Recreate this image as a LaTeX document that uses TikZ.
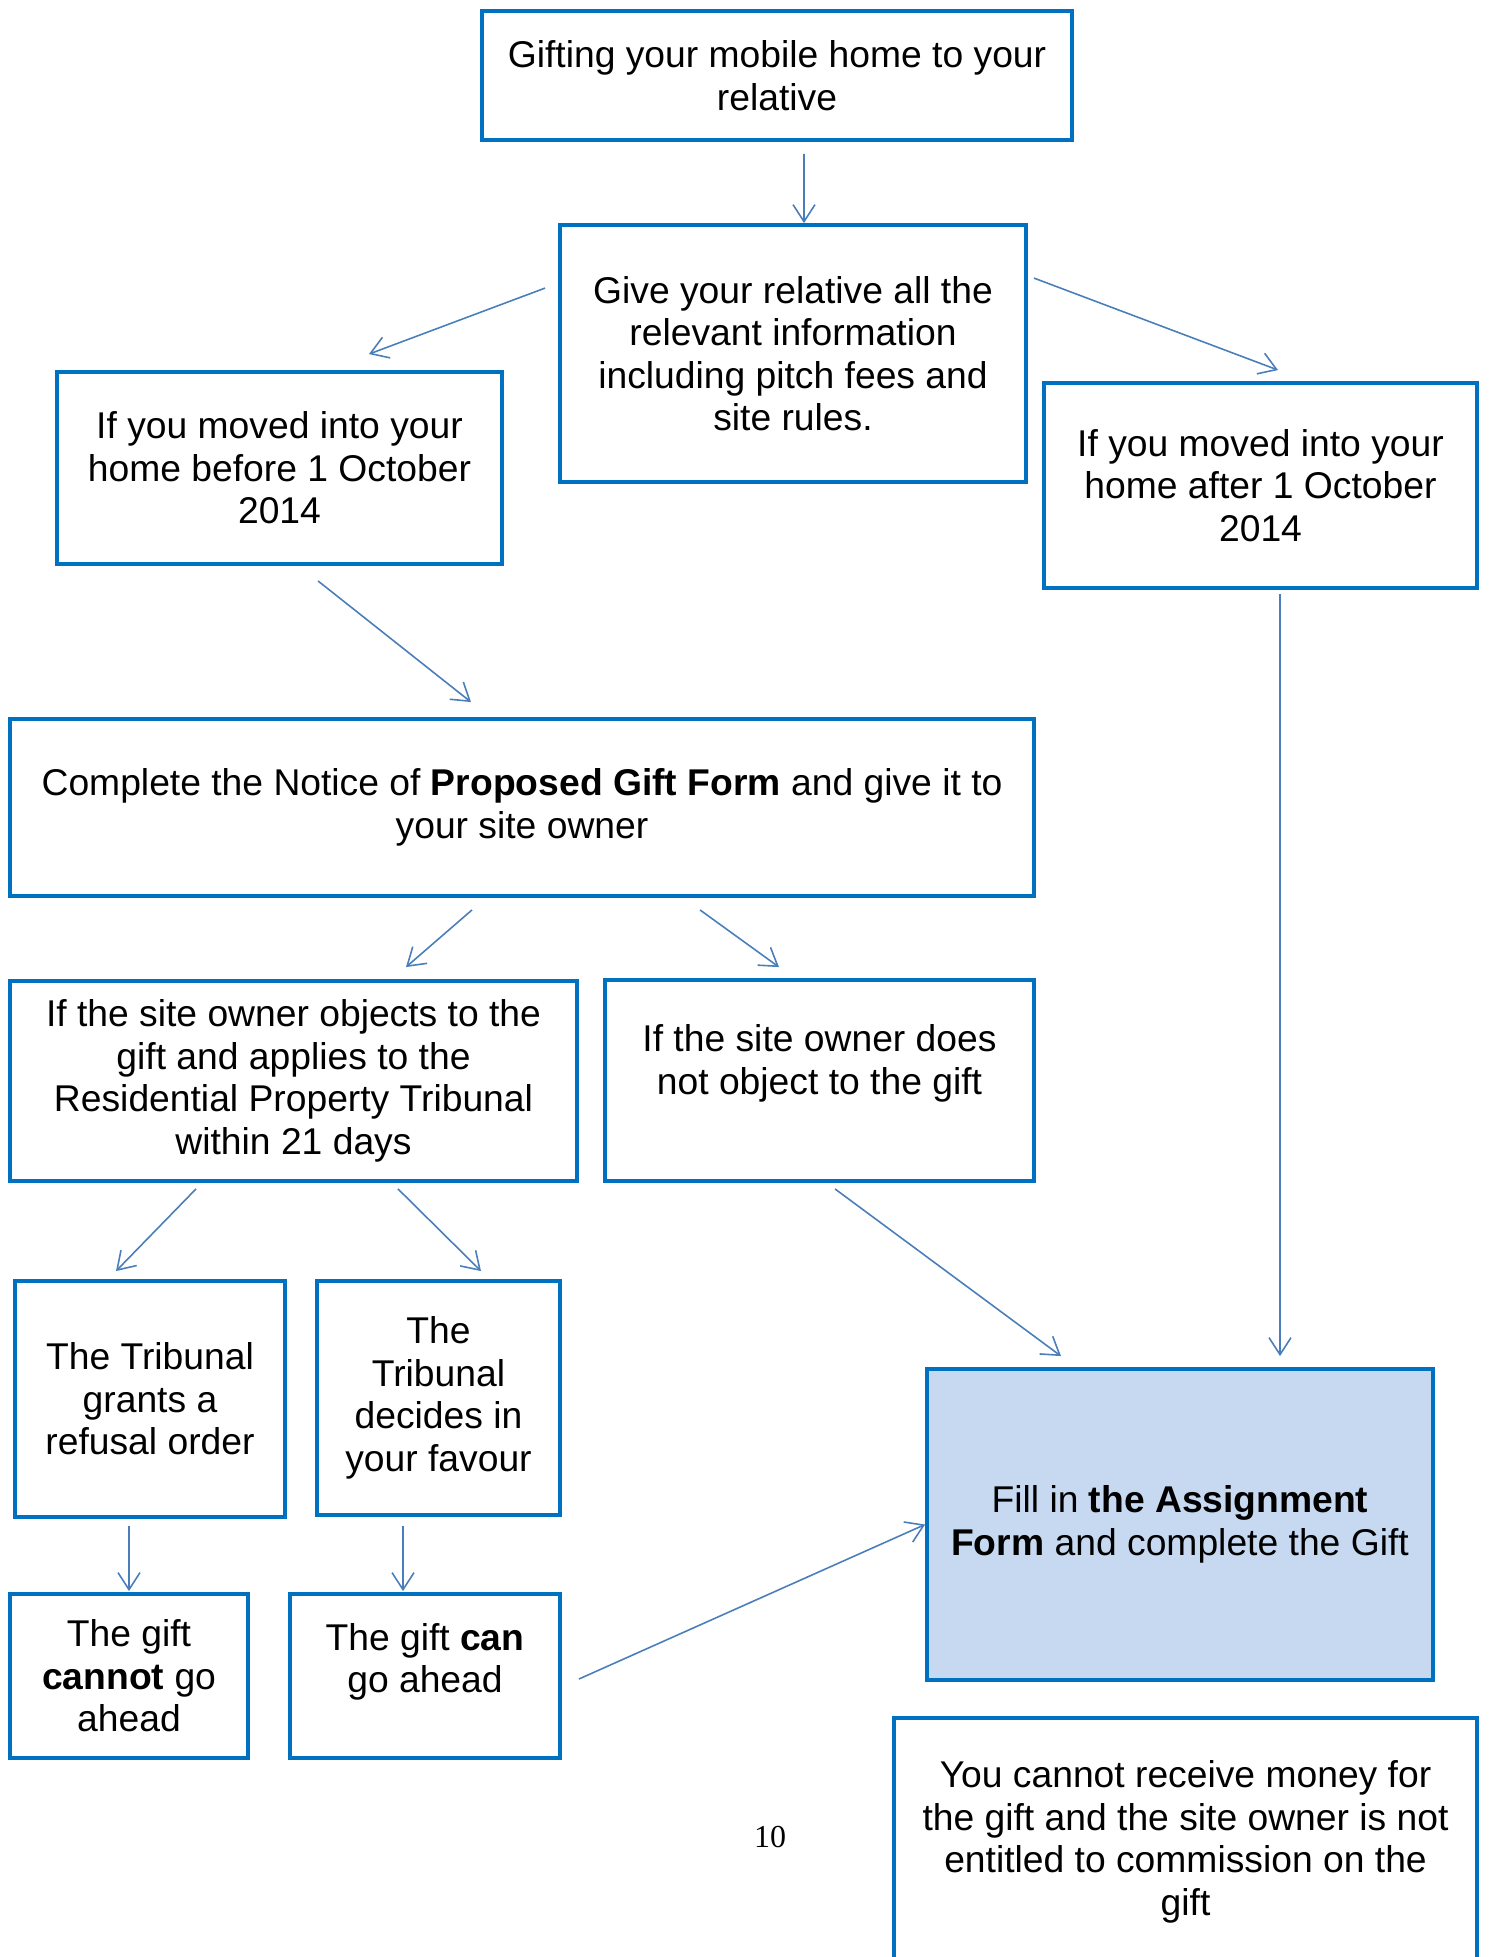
\documentclass[tikz,border=0pt]{standalone}
\usepackage{fontspec}
\setmainfont{Liberation Sans}
\newfontfamily\pagefont{Liberation Serif}
\usetikzlibrary{arrows.meta,calc}
\definecolor{boxblue}{HTML}{0070C0}
\definecolor{arrowblue}{HTML}{4A7EBB}
\definecolor{fillblue}{HTML}{C6D9F1}

\begin{document}
\begin{tikzpicture}[
    box/.style={draw=boxblue, line width=1.1pt, align=center, inner sep=0pt,
      font=\fontsize{10.6}{12.1}\selectfont},
    flow/.style={draw=arrowblue, line width=0.45pt,
      -{Straight Barb[length=1.7mm,width=2.2mm]}}
]
    \useasboundingbox (0,0) rectangle (14.88,-19.57);

    % Draw start and information
    \node[box, minimum width=5.90cm, minimum height=1.29cm] (gift) at (7.77,-0.755)
      {Gifting your mobile home to your\\relative};
    \node[box, minimum width=4.66cm, minimum height=2.57cm] (info) at (7.93,-3.535)
      {Give your relative all the\\relevant information\\including pitch fees and\\site rules.};

    % Draw the two moving-in dates
    \node[box, minimum width=4.45cm, minimum height=1.92cm] (before) at (2.795,-4.68)
      {If you moved into your\\home before 1 October\\2014};
    \node[box, minimum width=4.33cm, minimum height=2.05cm] (after) at (12.605,-4.855)
      {If you moved into your\\home after 1 October\\2014};

    % Notice to site owner
    \node[box, minimum width=10.24cm, minimum height=1.77cm] (notice) at (5.22,-8.075)
      {Complete the Notice of \textbf{Proposed Gift Form} and give it to\\your site owner};
    \node[box, minimum width=5.67cm, minimum height=2.00cm] (objects) at (2.935,-10.81)
      {If the site owner objects to the\\gift and applies to the\\Residential Property Tribunal\\within 21 days};
    \node[box, minimum width=4.29cm, minimum height=2.01cm, text depth=0.42cm] (noobject) at (8.195,-10.805)
      {If the site owner does\\not object to the gift};

    % Tribunal outcomes
    \node[box, minimum width=2.70cm, minimum height=2.36cm] (refusal) at (1.50,-13.99)
      {The Tribunal\\grants a\\refusal order};
    \node[box, minimum width=2.43cm, minimum height=2.34cm] (favour) at (4.385,-13.98)
      {The\\Tribunal\\decides in\\your favour};
    \node[box, minimum width=2.38cm, minimum height=1.64cm] (cannot) at (1.29,-16.76)
      {The gift\\\textbf{cannot} go\\ahead};
    \node[box, minimum width=2.70cm, minimum height=1.64cm, text depth=0.36cm] (can) at (4.25,-16.76)
      {The gift \textbf{can}\\go ahead};

    % Assignment and note
    \node[box, fill=fillblue, minimum width=5.06cm, minimum height=3.11cm] (assign) at (11.80,-15.245)
      {Fill in \textbf{the Assignment}\\\textbf{Form} and complete the Gift};
    \node[box, minimum width=5.83cm, minimum height=2.48cm] (money) at (11.855,-18.42)
      {You cannot receive money for\\the gift and the site owner is not\\entitled to commission on the\\gift};

    % Page number
    \node[font=\pagefont\fontsize{9.1}{11}\selectfont] (pagenum) at (7.70,-18.37) {10};

    % Connectors
    \draw[flow] ($(gift.south)+(0.27,-0.12)$) -- ($(info.north)+(0.11,0)$);
    \draw[flow] ($(info.north west)+(-0.13,-0.65)$) -- ($(before.north)+(0.895,0.16)$);
    \draw[flow] ($(info.north east)+(0.06,-0.55)$) -- ($(after.north)+(0.175,0.11)$);
    \draw[flow] ($(before.south)+(0.385,-0.15)$) -- ($(notice.north)+(-0.51,0.15)$);
    \draw[flow] ($(notice.south)+(-0.50,-0.12)$) -- ($(objects.north)+(1.125,0.12)$);
    \draw[flow] ($(notice.south)+(1.78,-0.12)$) -- ($(noobject.north)+(-0.405,0.11)$);
    \draw[flow] ($(after.south)+(0.195,-0.04)$) -- ($(assign.north)+(1.0,0.11)$);
    \draw[flow] ($(noobject.south)+(0.155,-0.06)$) -- ($(assign.north)+(-1.19,0.11)$);
    \draw[flow] ($(objects.south)+(-0.975,-0.06)$) -- ($(refusal.north)+(-0.34,0.08)$);
    \draw[flow] ($(objects.south)+(1.045,-0.06)$) -- ($(favour.north)+(0.425,0.08)$);
    \draw[flow] ($(refusal.south)+(-0.21,-0.07)$) -- ($(cannot.north)+(0,0.01)$);
    \draw[flow] ($(favour.south)+(-0.355,-0.09)$) -- ($(can.north)+(-0.22,0.01)$);
    \draw[flow] ($(can.east)+(0.17,-0.03)$) -- (assign.west);
\end{tikzpicture}
\end{document}
